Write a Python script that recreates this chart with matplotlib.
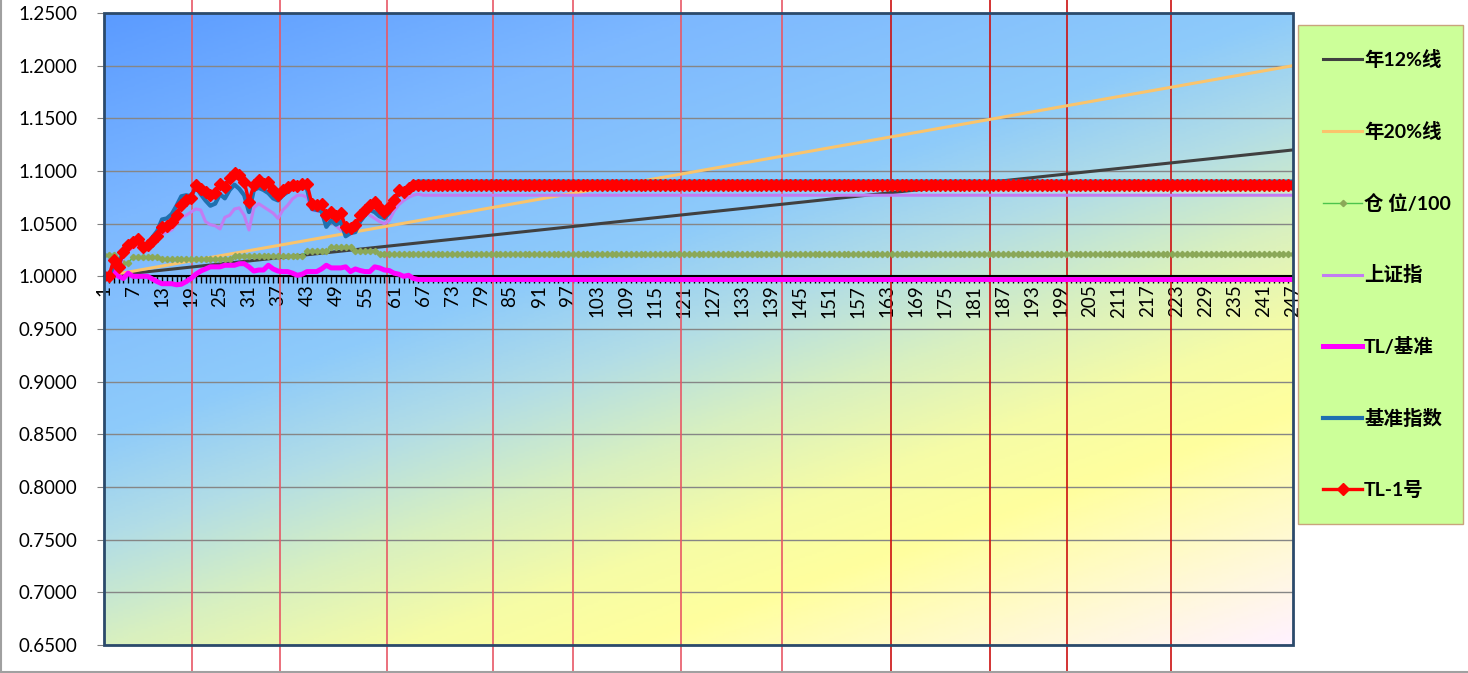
import numpy as np
import matplotlib
matplotlib.use("Agg")
from matplotlib import pyplot as plt
from matplotlib.colors import LinearSegmentedColormap
from matplotlib.lines import Line2D
from matplotlib.patches import Rectangle

plt.rcParams['font.family'] = ['Lato', 'Noto Sans CJK SC', 'DejaVu Sans']

### data ###
n_days = 247
days = np.arange(1, n_days + 1)
label_every = 6

# straight yearly reference lines (first / last day)
year12_ends = [1.0, 1.12]
year20_ends = [1.0, 1.20]

# 仓位/100
position_head = [1.020, 1.020, 1.020, 1.016, 1.013, 1.013,
                 1.018, 1.018, 1.018, 1.018, 1.018, 1.018,
                 1.016, 1.016, 1.016, 1.016, 1.016, 1.016, 1.016, 1.016,
                 1.016, 1.016, 1.016, 1.016, 1.016, 1.016, 1.016,
                 1.019, 1.019, 1.019, 1.019, 1.019, 1.019, 1.019, 1.019,
                 1.019, 1.019, 1.019, 1.019, 1.019, 1.019, 1.019,
                 1.024, 1.024, 1.024, 1.024, 1.024,
                 1.028, 1.028, 1.028, 1.028, 1.028,
                 1.024, 1.024, 1.024, 1.024, 1.024]
position_flat = 1.021

# 上证指
sh_head = [1.000, 1.000, 1.005, 1.008, 1.018, 1.024, 1.027, 1.029, 1.024, 1.0255,
           1.030, 1.033, 1.040, 1.042, 1.044, 1.050, 1.056, 1.058, 1.061, 1.064,
           1.063, 1.052, 1.049, 1.048, 1.045, 1.056, 1.058, 1.064, 1.065, 1.058,
           1.044, 1.065, 1.069, 1.066, 1.063, 1.060, 1.055, 1.063, 1.0675, 1.0735,
           1.077, 1.077, 1.075, 1.063, 1.062, 1.062, 1.049, 1.052, 1.048, 1.044,
           1.041, 1.040, 1.047, 1.053, 1.060, 1.058, 1.055, 1.052, 1.050, 1.053,
           1.062, 1.068, 1.072, 1.075, 1.077, 1.078]
sh_flat = 1.077

# TL/基准
ratio_head = [1.000, 1.000, 1.005, 1.000, 0.998, 1.003, 1.000, 1.000, 1.000, 1.000,
              0.9975, 0.995, 0.993, 0.993, 0.993, 0.992, 0.9925, 0.995, 0.998, 1.002,
              1.005, 1.007, 1.009, 1.009, 1.009, 1.0105, 1.0105, 1.0105, 1.012, 1.012,
              1.009, 1.005, 1.006, 1.006, 1.0105, 1.007, 1.005, 1.0045, 1.0045, 1.003,
              1.001, 1.002, 1.0045, 1.0045, 1.0045, 1.007, 1.0105, 1.008, 1.008, 1.008,
              1.009, 1.0045, 1.007, 1.0055, 1.0045, 1.0045, 1.009, 1.008, 1.006, 1.0055,
              1.003, 1.002, 1.000, 1.001, 0.998, 0.997]
ratio_flat = 0.997

# 基准指数
bench_head = [1.000, 1.000, 1.010, 1.009, 1.025, 1.027, 1.033, 1.035, 1.028, 1.030,
              1.037, 1.043, 1.054, 1.055, 1.059, 1.067, 1.076, 1.077, 1.076, 1.085,
              1.078, 1.072, 1.067, 1.069, 1.078, 1.074, 1.082, 1.087, 1.083, 1.077,
              1.061, 1.082, 1.084, 1.082, 1.079, 1.074, 1.072, 1.077, 1.080, 1.084,
              1.085, 1.086, 1.083, 1.064, 1.063, 1.062, 1.047, 1.053, 1.049, 1.052,
              1.038, 1.041, 1.042, 1.052, 1.058, 1.063, 1.061, 1.057, 1.055, 1.060,
              1.069, 1.080, 1.080, 1.083, 1.089, 1.090]
bench_flat = 1.090

# TL-1号
tl1_head = [1.000, 1.000, 1.0155, 1.009, 1.023, 1.030, 1.033, 1.035, 1.028, 1.030,
            1.034, 1.038, 1.047, 1.048, 1.052, 1.058, 1.068, 1.072, 1.074, 1.087,
            1.083, 1.080, 1.077, 1.079, 1.088, 1.085, 1.093, 1.098, 1.096, 1.090,
            1.071, 1.087, 1.091, 1.088, 1.090, 1.082, 1.077, 1.082, 1.085, 1.087,
            1.086, 1.088, 1.088, 1.069, 1.068, 1.069, 1.058, 1.061, 1.057, 1.060,
            1.047, 1.046, 1.049, 1.058, 1.063, 1.068, 1.071, 1.065, 1.061, 1.066,
            1.072, 1.082, 1.080, 1.084, 1.087, 1.087]
tl1_flat = 1.087

# hand-drawn vertical markers (day positions)
light_marks = [19.3, 37.4, 59.6, 81.5, 98.0, 120.3, 141.3]
dark_marks = [163.8, 184.4, 200.3, 221.8]

labels = ["年12%线", "年20%线", "仓 位/100", "上证指", "TL/基准", "基准指数", "TL-1号"]


def fill_out(head, flat):
    return np.array(head + [flat] * (n_days - len(head)))


position = fill_out(position_head, position_flat)
sh = fill_out(sh_head, sh_flat)
ratio = fill_out(ratio_head, ratio_flat)
bench = fill_out(bench_head, bench_flat)
tl1 = fill_out(tl1_head, tl1_flat)
ends = [days[0], days[-1]]

### figure ###
fig = plt.figure(figsize=(14.68, 6.73), dpi=100)
ax = fig.add_axes([104 / 1468, 1 - 645 / 673, 1189 / 1468, 632 / 673])

# diagonal background gradient
cmap = LinearSegmentedColormap.from_list("bg", [
    (0.0, '#5B9BFF'), (0.2, '#7DB8FF'), (0.4, '#8ECBFA'), (0.5, '#B2DDE6'),
    (0.6, '#D8F0C0'), (0.7, '#F6FCA6'), (0.78, '#FFFF9E'), (0.92, '#FFF8DC'),
    (1.0, '#FFF2FF')])
u, v = np.meshgrid(np.linspace(0, 1, 500), np.linspace(0, 1, 300))
ax.imshow(0.4 * u + 0.6 * v, cmap=cmap, vmin=0, vmax=1, aspect='auto',
          extent=(0, 1, 0, 1), transform=ax.transAxes, origin='upper', zorder=0)

ax.set_xlim(1, n_days)
ax.set_ylim(0.65, 1.25)
ax.set_axisbelow(True)
ax.yaxis.grid(True, color='#868686', lw=1)

for x in light_marks:
    ax.axvline(x, ymin=-0.045, ymax=1.021, clip_on=False, color='#E85866', lw=1.2, zorder=1)
for x in dark_marks:
    ax.axvline(x, ymin=-0.045, ymax=1.021, clip_on=False, color='#CC1111', lw=1.2, zorder=1)

l12, = ax.plot(ends, year12_ends, color='#404040', lw=2.2, zorder=2)
l20, = ax.plot(ends, year20_ends, color='#FAC46C', lw=2.2, zorder=2)
lpos, = ax.plot(days, position, color='#4CC44C', lw=1, marker='D', ms=3.2,
                mfc='#8BA858', mec='#8BA858', zorder=3)
lsh, = ax.plot(days, sh, color='#C27CF2', lw=2.2, zorder=3)
lratio, = ax.plot(days, ratio, color='#FF00FF', lw=3.6, zorder=4)
lbench, = ax.plot(days, bench, color='#1F70B0', lw=3.0, zorder=4)
ltl1, = ax.plot(days, tl1, color='#FF0000', lw=2.4, marker='D', ms=6,
                mfc='#FF0000', mec='#FF0000', zorder=5)

# x axis crosses at 1.0
for s in ['top', 'right', 'left']:
    ax.spines[s].set_visible(False)
ax.spines['bottom'].set_position(('data', 1.0))
ax.spines['bottom'].set_color('black')
ax.spines['bottom'].set_linewidth(1.5)
ax.add_patch(Rectangle((0, 0), 1, 1, transform=ax.transAxes, fill=False,
                       edgecolor='#2B4A6B', lw=2, clip_on=False, zorder=6))

ax.set_xticks(days, labels=[str(d) if (d - 1) % label_every == 0 else '' for d in days])
ax.tick_params(axis='x', direction='out', length=5, width=1, color='black',
               pad=1, labelsize=13.5, labelrotation=90)
ax.set_yticks(np.arange(0.65, 1.2501, 0.05))
ax.yaxis.set_major_formatter(matplotlib.ticker.FormatStrFormatter('%.4f'))
ax.tick_params(axis='y', length=5, color='#808080', pad=14, labelsize=13.5)

leg = ax.legend([l12, l20, lpos, lsh, lratio, lbench, ltl1], labels,
                loc='upper left', bbox_to_anchor=(1298 / 1468, 1 - 523 / 673, 165 / 1468, 498 / 673),
                bbox_transform=fig.transFigure, mode='expand', borderaxespad=0,
                borderpad=1.3, labelspacing=2.71, handlelength=2.0, handletextpad=0.1,
                numpoints=1, fancybox=False, framealpha=1,
                prop={'size': 14, 'weight': 'bold', 'family': ['Lato', 'Noto Sans CJK SC']})
leg.get_frame().set_facecolor('#CCFF99')
leg.get_frame().set_edgecolor('#C8A47C')
leg.get_frame().set_linewidth(1)

# chart area border (left / bottom)
fig.add_artist(Line2D([0.0007, 0.0007], [0, 1], color='#A0A0A0', lw=1.5))
fig.add_artist(Line2D([0, 1], [0.0015, 0.0015], color='#A0A0A0', lw=1.5))

fig.savefig("out.png", dpi=100)
